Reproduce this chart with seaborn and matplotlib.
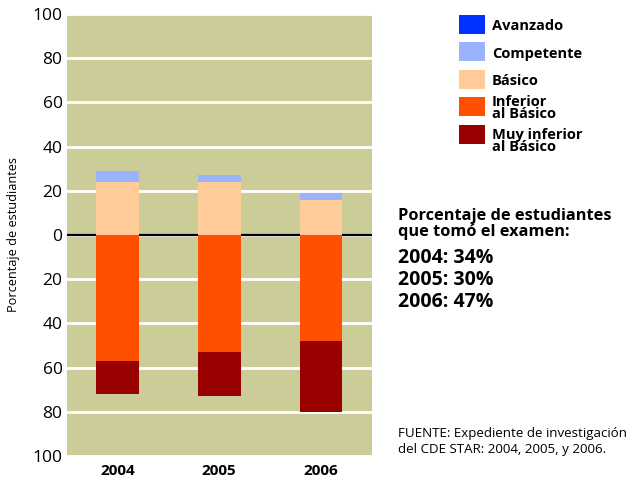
import matplotlib
matplotlib.use("Agg")
import matplotlib.pyplot as plt
from matplotlib.patches import Rectangle
import seaborn as sns
import numpy as np

# ---- data ----
years = ["2004", "2005", "2006"]
avanzado = [0, 0, 0]
competente = [5, 3, 3]
basico = [24, 24, 16]
inferior = [57, 53, 48]
muy_inferior = [15, 20, 32]

levels = ["Avanzado", "Competente", "Básico", "Inferior\nal Básico", "Muy inferior\nal Básico"]
colors = ["#0033FF", "#99B3FF", "#FFCC99", "#FF5000", "#990000"]

ytick_vals = [-100, -80, -60, -40, -20, 0, 20, 40, 60, 80, 100]
ytick_labels = ["100", "80", "60", "40", "20", "0", "20", "40", "60", "80", "100"]

participation_title = ["Porcentaje de estudiantes", "que tomó el examen:"]
participation = ["2004: 34%", "2005: 30%", "2006: 47%"]
source = ["FUENTE: Expediente de investigación", "del CDE STAR: 2004, 2005, y 2006."]

# ---- style ----
sns.set_style("white")
plt.rcParams["font.family"] = ["Open Sans", "DejaVu Sans"]
plt.rcParams["text.color"] = "black"
plt.rcParams["axes.labelcolor"] = "black"
plt.rcParams["xtick.color"] = "black"
plt.rcParams["ytick.color"] = "black"

W, H = 637, 483
fig = plt.figure(figsize=(W / 100, H / 100), dpi=100)
ax = fig.add_axes([66.7 / W, 1 - 456 / H, 305 / W, 442 / H])
ax.set_facecolor("#CCCC99")

bw = 0.42
bas = np.array(basico)
comp = np.array(competente)
av = np.array(avanzado)
inf_ = np.array(inferior)
muy = np.array(muy_inferior)

# positive side: Básico, Competente, Avanzado stacked up from 0
sns.barplot(x=years, y=bas, color=colors[2], width=bw, errorbar=None,
            saturation=1, ax=ax, linewidth=0)
sns.barplot(x=years, y=comp, bottom=bas, color=colors[1], width=bw, errorbar=None,
            saturation=1, ax=ax, linewidth=0)
sns.barplot(x=years, y=av, bottom=bas + comp, color=colors[0], width=bw, errorbar=None,
            saturation=1, ax=ax, linewidth=0)
# negative side: Inferior, Muy inferior stacked down from 0
sns.barplot(x=years, y=-inf_, color=colors[3], width=bw, errorbar=None,
            saturation=1, ax=ax, linewidth=0)
sns.barplot(x=years, y=-muy, bottom=-inf_, color=colors[4], width=bw, errorbar=None,
            saturation=1, ax=ax, linewidth=0)

ax.set_xlim(-0.5, 2.5)
ax.set_ylim(-100, 100)
ax.set_yticks(ytick_vals)
ax.set_yticklabels(ytick_labels, fontsize=12.5)
ax.tick_params(axis="both", length=0, labelcolor="black")
ax.tick_params(axis="y", pad=3)
ax.tick_params(axis="x", pad=6)
for lab in ax.get_xticklabels():
    lab.set_fontweight("bold")
    lab.set_fontsize(11)
ax.set_xlabel("")
ax.set_ylabel("Porcentaje de estudiantes", fontsize=9.2, color="black")
ax.yaxis.set_label_coords(-47 / 305, 0.5)
ax.grid(axis="y", color="white", linewidth=2)
ax.grid(axis="x", visible=False)
ax.set_axisbelow(True)
ax.axhline(0, color="black", linewidth=1.6, zorder=0.8)
for s in ax.spines.values():
    s.set_visible(False)

# ---- legend (manual) ----
def fx(x):
    return x / W

def fy(y):
    return 1 - y / H

patch_tops = [15, 42, 70, 97, 125]
last_baselines = [30, 58, 85, 118, 151]
for col, lev, top, base in zip(colors, levels, patch_tops, last_baselines):
    fig.add_artist(Rectangle((fx(459), fy(top + 19)), 26 / W, 19 / H,
                             transform=fig.transFigure, facecolor=col,
                             edgecolor="none"))
    fig.text(fx(492), fy(base), lev, fontsize=10.5, fontweight="bold",
             va="baseline", ha="left", linespacing=0.8, color="black")

# ---- participation text ----
for i, line in enumerate(participation_title):
    fig.text(fx(398), fy(220 + i * 16), line, fontsize=11.8, fontweight="bold",
             va="baseline", ha="left", color="black")
for i, line in enumerate(participation):
    fig.text(fx(398), fy(263 + i * 22), line, fontsize=14, fontweight="bold",
             va="baseline", ha="left", color="black")

# ---- source ----
for i, line in enumerate(source):
    fig.text(fx(398), fy(437 + i * 16), line, fontsize=9.6,
             va="baseline", ha="left", color="black")

fig.savefig("out.png", dpi=100, facecolor="white")
